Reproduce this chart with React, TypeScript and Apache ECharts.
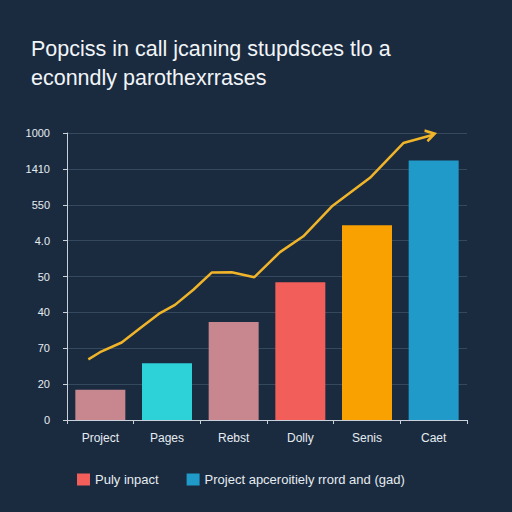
import React, { useEffect, useRef } from "react";
import * as echarts from "echarts";

const titleText = "Popciss in call jcaning stupdsces tlo a\neconndly parothexrrases";
const categories = ["Project", "Pages", "Rebst", "Dolly", "Senis", "Caet"];
const barValues = [84, 158, 273, 384, 543, 723];
const barColors = ["#c8868f", "#2dd2d8", "#c8868f", "#f25f5a", "#f9a100", "#1f9ac9"];
const yTickLabels = ["0", "20", "70", "40", "50", "4.0", "550", "1410", "1000"];
const lineX = [0.32, 0.495, 0.82, 1.095, 1.395, 1.62, 1.895, 2.17, 2.47, 2.81, 3.195, 3.545, 3.97, 4.545, 5.045, 5.495];
const lineY = [169, 189, 216, 256, 298, 321, 363, 411, 412, 398, 468, 512, 595, 675, 772, 795];
const legendNames = ["Puly inpact", "Project apceroitiely rrord and (gad)"];
const legendColors = ["#f25f5a", "#1f9ac9"];

export default function App() {
  const ref = useRef<HTMLDivElement>(null);
  useEffect(() => {
    if (!ref.current) return;
    const chart = echarts.init(ref.current, undefined, { renderer: "svg" });
    const lineData = lineX.map((x, i) => {
      const item: any = { value: [x, lineY[i]] };
      if (i === lineX.length - 1) {
        item.symbol = "path://M0,0 L10,5 L0,10";
        item.symbolSize = [9, 11];
        item.symbolRotate = 15;
        item.symbolOffset = [-3, 0];
        item.itemStyle = { color: "none", borderColor: "#f0b429", borderWidth: 2.5 };
      }
      return item;
    });
    chart.setOption({
      animation: false,
      backgroundColor: "#1a2b40",
      textStyle: { fontFamily: "Liberation Sans, Arial, sans-serif" },
      title: {
        text: titleText,
        left: 26,
        top: 29,
        textStyle: {
          color: "#f2f5f8",
          fontSize: 21.5,
          fontWeight: "normal",
          lineHeight: 29,
          fontFamily: "Liberation Sans, Arial, sans-serif",
        },
      },
      legend: {
        left: 72,
        top: 468,
        itemWidth: 13,
        itemHeight: 12,
        itemGap: 28,
        textStyle: { color: "#e6ebf0", fontSize: 13 },
        data: legendNames.map((n, i) => ({
          name: n,
          icon: "rect",
          itemStyle: { color: legendColors[i], borderWidth: 0 },
        })),
      },
      grid: { left: 67, right: 45, top: 133, bottom: 92 },
      xAxis: [
        {
          type: "category",
          data: categories,
          axisLine: { lineStyle: { color: "#c9d1da", width: 1 } },
          axisTick: { show: true, length: 4, lineStyle: { color: "#c9d1da" } },
          axisLabel: { color: "#e6ebf0", fontSize: 12, margin: 12 },
        },
        { type: "value", min: 0, max: 6, show: false },
      ],
      yAxis: {
        type: "value",
        min: 0,
        max: 800,
        interval: 100,
        offset: 10,
        axisLine: { show: true, lineStyle: { color: "#c9d1da", width: 1 } },
        axisTick: { show: true, length: 4, lineStyle: { color: "#c9d1da" } },
        axisLabel: {
          color: "#e6ebf0",
          fontSize: 11,
          margin: 7,
          formatter: (v: number) => yTickLabels[Math.round(v / 100)] ?? "",
        },
        splitLine: { lineStyle: { color: "#34485e", width: 1 } },
      },
      series: [
        {
          name: legendNames[0],
          type: "bar",
          barWidth: 50,
          itemStyle: { color: legendColors[0] },
          data: barValues.map((v, i) => ({ value: v, itemStyle: { color: barColors[i] } })),
        },
        {
          name: legendNames[1],
          type: "line",
          xAxisIndex: 1,
          symbol: "none",
          showSymbol: true,
          lineStyle: { color: "#f0b429", width: 2.5 },
          itemStyle: { color: legendColors[1] },
          data: lineData,
          z: 5,
        },
      ],
    });
    return () => chart.dispose();
  }, []);
  return <div ref={ref} style={{ width: 512, height: 512, position: "absolute", left: 0, top: 0 }} />;
}
